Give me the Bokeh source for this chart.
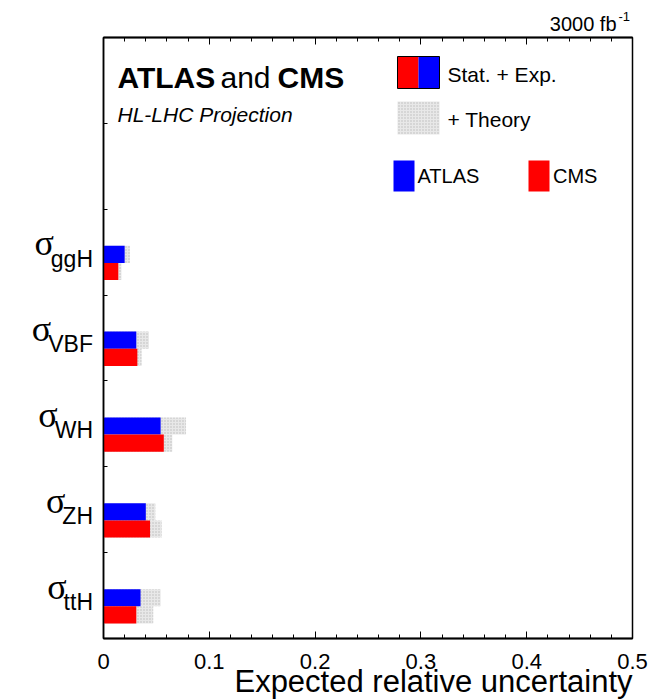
from bokeh.plotting import figure
from bokeh.models import Label, LinearAxis, FixedTicker, Range1d
from bokeh.layouts import column, row
from bokeh.core.properties import value
from bokeh.embed import file_html
from bokeh.resources import INLINE

# ---------------- data ----------------
processes = ["ggH", "VBF", "WH", "ZH", "ttH"]          # top to bottom
atlas_stat = [0.020, 0.031, 0.054, 0.040, 0.035]
atlas_total = [0.025, 0.043, 0.078, 0.049, 0.054]
cms_stat = [0.014, 0.032, 0.057, 0.044, 0.031]
cms_total = [0.017, 0.036, 0.065, 0.055, 0.047]

xticks = [0, 0.1, 0.2, 0.3, 0.4, 0.5]
xtick_labels = ["0", "0.1", "0.2", "0.3", "0.4", "0.5"]
x_minor = [0.02, 0.04, 0.06, 0.08, 0.12, 0.14, 0.16, 0.18, 0.22, 0.24, 0.26, 0.28,
           0.32, 0.34, 0.36, 0.38, 0.42, 0.44, 0.46, 0.48]
yticks = [1, 2, 3, 4, 5, 6]

# ---------------- layout (page pixels) ----------------
TOTAL_W, TOTAL_H = 660, 700
FL, FT, FR, FB = 103, 37, 632, 638        # frame edges
XMAX, YMAX = 0.5, 7.0
PX_X = (FR - FL) / XMAX
PX_Y = (FB - FT) / YMAX
MB = 6                                     # side/bottom border of the main figure
MT = 2                                     # top border of the main figure
K = 0.38                                   # baseline correction (em)


def dx(px):
    return (px - FL) / PX_X


def dy(py):
    return (FB - py) / PX_Y


BLUE, RED = "#0000ff", "#ff0000"
GREY_FILL, GREY_HATCH = "#e8e8e8", "#bcbcbc"
SANS = "Liberation Sans"

common = dict(output_backend="svg", toolbar_location=None, title=None,
              x_axis_type=None, y_axis_type=None)

# ---------------- main figure ----------------
main_w = TOTAL_W - (FL - MB)
main_h = (FB - FT) + MT + MB
p = figure(width=main_w, height=main_h, x_range=Range1d(0, XMAX), y_range=Range1d(0, YMAX),
           min_border_left=MB, min_border_right=main_w - MB - (FR - FL),
           min_border_top=MT, min_border_bottom=MB, **common)
p.outline_line_color = "black"
p.outline_line_width = 1.5
p.background_fill_color = "white"
p.border_fill_color = "white"


def tick_axis(side, ticks, length):
    ax = LinearAxis(ticker=FixedTicker(ticks=[], minor_ticks=ticks))
    ax.major_tick_in = 0
    ax.major_tick_out = 0
    ax.minor_tick_in = length
    ax.minor_tick_out = 0
    ax.minor_tick_line_color = "black"
    ax.minor_tick_line_width = 1
    ax.axis_line_color = "black"
    ax.axis_line_width = 1.5
    p.add_layout(ax, side)


for side in ("below", "above"):
    tick_axis(side, x_minor, 4)
    tick_axis(side, xticks, 7)
tick_axis("left", yticks, 4)

# bars
n = len(processes)
centers = [(n - 1 - i) + 0.375 for i in range(n)]
y_atlas = [c + 0.1 for c in centers]
y_cms = [c - 0.1 for c in centers]

hatch = dict(fill_color=GREY_FILL, hatch_pattern="dot", hatch_color=GREY_HATCH,
             hatch_scale=3, hatch_weight=1.2, line_color=None)
p.hbar(y=y_atlas, left=0, right=atlas_total, height=0.2, **hatch)
p.hbar(y=y_cms, left=0, right=cms_total, height=0.2, **hatch)
p.hbar(y=y_atlas, left=0, right=atlas_stat, height=0.2, fill_color=BLUE, line_color=None)
p.hbar(y=y_cms, left=0, right=cms_stat, height=0.2, fill_color=RED, line_color=None)


def lab(px, py, text, size, style="normal", align="left", font=SANS):
    p.add_layout(Label(x=dx(px), y=dy(py - K * size), text=text, text_align=align,
                       text_baseline="alphabetic", text_font=font, text_font_size=f"{size}px",
                       text_font_style=style, text_color="black"))


lab(117, 88.3, "ATLAS", 30, style="bold")
lab(220, 88.3, "and", 30)
lab(277, 88.3, "CMS", 30, style="bold")
lab(117, 122, "HL-LHC Projection", 21, style="italic")
lab(447, 82, "Stat. + Exp.", 21)
lab(447, 126.5, "+ Theory", 21)
lab(417, 183.5, "ATLAS", 20)
lab(552.5, 183.5, "CMS", 20)

# legend swatches
p.quad(left=dx(397), right=dx(418), top=dy(56), bottom=dy(88), fill_color=RED, line_color=None)
p.quad(left=dx(418), right=dx(439), top=dy(56), bottom=dy(88), fill_color=BLUE, line_color=None)
p.quad(left=dx(397), right=dx(439), top=dy(56), bottom=dy(88), fill_alpha=0, line_color="black", line_width=1)
p.quad(left=dx(397), right=dx(439), top=dy(101), bottom=dy(134), **hatch)
p.quad(left=dx(393), right=dx(414), top=dy(160), bottom=dy(191), fill_color=BLUE, line_color=None)
p.quad(left=dx(528), right=dx(549), top=dy(160), bottom=dy(191), fill_color=RED, line_color=None)

# ---------------- left strip: category labels sigma_X ----------------
left_w = FL - MB
lf = figure(width=left_w, height=main_h, x_range=Range1d(0, left_w), y_range=Range1d(0, YMAX),
            min_border_left=0, min_border_right=0, min_border_top=MT, min_border_bottom=MB, **common)
lf.outline_line_color = None

cw = {"g": .556, "H": .722, "V": .667, "B": .667, "F": .611, "W": .944, "Z": .611, "t": .278}
SUB_SIZE, SIG_SIZE = 23, 36
sub_right = 92.5
sub_x = [sub_right] * n
sub_y = [c - (4.5 - K * SUB_SIZE) / PX_Y for c in centers]
sig_x = [sub_right - sum(cw.get(ch, .6) for ch in name) * SUB_SIZE + 3 for name in processes]
sig_y = [c + (6 + K * SIG_SIZE) / PX_Y for c in centers]
lf.text(x=sub_x, y=sub_y, text=processes, text_align="right", text_baseline="alphabetic",
        text_font=value(SANS), text_font_size=value(f"{SUB_SIZE}px"), text_color="black")
lf.text(x=sig_x, y=sig_y, text=["σ"] * n, text_align="right", text_baseline="alphabetic",
        text_font=value("Liberation Serif"), text_font_size=value(f"{SIG_SIZE}px"), text_color="black")

# ---------------- top strip: luminosity ----------------
top_h = FT - MT
tf = figure(width=TOTAL_W, height=top_h, x_range=Range1d(dx(0), dx(TOTAL_W)), y_range=Range1d(top_h, 0),
            min_border_left=0, min_border_right=0, min_border_top=0, min_border_bottom=0, **common)
tf.outline_line_color = None
tf.text(x=[dx(616)], y=[31 - K * 20], text=["3000 fb"], text_align="right", text_baseline="alphabetic",
        text_font=value(SANS), text_font_size=value("20px"), text_color="black")
tf.text(x=[dx(618)], y=[21 - K * 13], text=["-1"], text_align="left", text_baseline="alphabetic",
        text_font=value(SANS), text_font_size=value("13px"), text_color="black")

# ---------------- bottom strip: tick labels + axis title ----------------
bot_top = FB + MB
bot_h = TOTAL_H - bot_top
bf = figure(width=TOTAL_W, height=bot_h, x_range=Range1d(dx(0), dx(TOTAL_W)), y_range=Range1d(bot_h, 0),
            min_border_left=0, min_border_right=0, min_border_top=0, min_border_bottom=0, **common)
bf.outline_line_color = None
bf.text(x=xticks, y=[669 - K * 22 - bot_top] * len(xticks), text=xtick_labels, text_align="center",
        text_baseline="alphabetic", text_font=value(SANS), text_font_size=value("22px"), text_color="black")
bf.text(x=[XMAX], y=[692.5 - K * 31 - bot_top], text=["Expected relative uncertainty"], text_align="right",
        text_baseline="alphabetic", text_font=value(SANS), text_font_size=value("31px"), text_color="black")

layout = column(tf, row(lf, p), bf)
open("out.html", "w").write(file_html(layout, INLINE))
